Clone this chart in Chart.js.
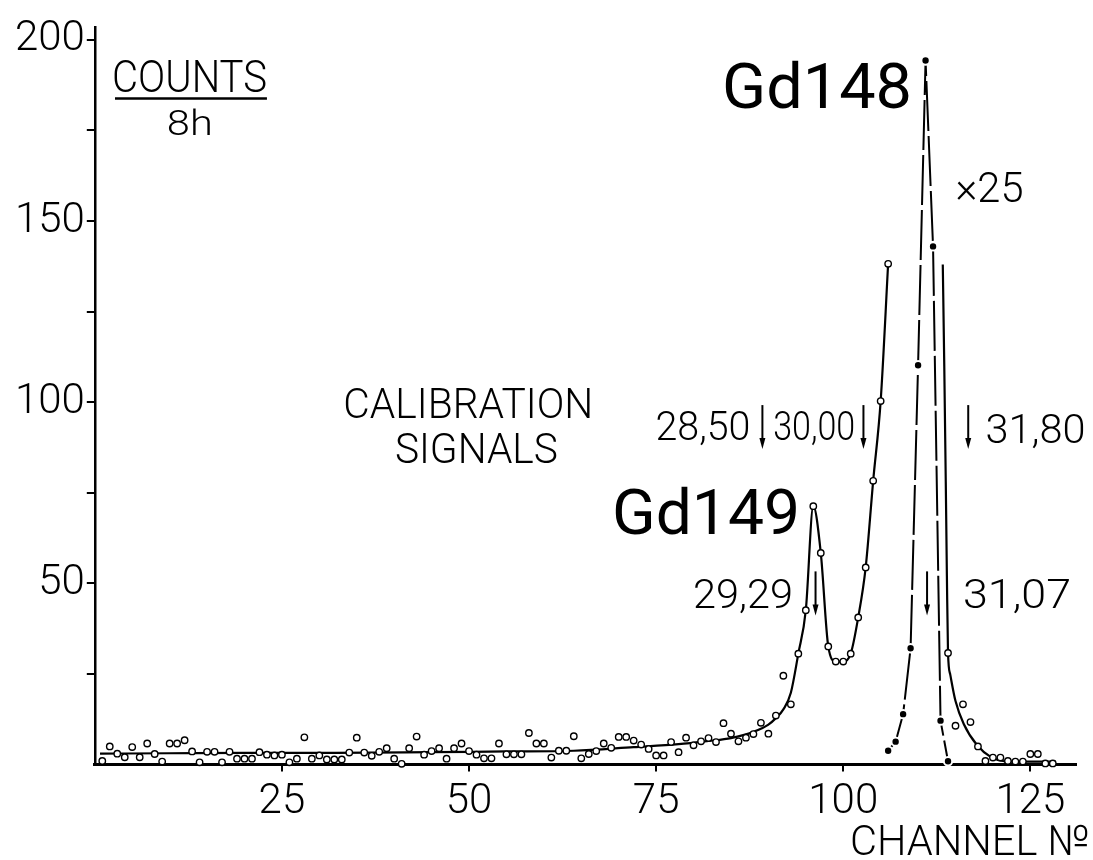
<!DOCTYPE html>
<html>
<head>
<meta charset="utf-8">
<style>
html,body{margin:0;padding:0;background:#fff;}
canvas{display:block;}
</style>
<script src="https://cdn.jsdelivr.net/npm/chart.js@4.4.1/dist/chart.umd.min.js"></script>
</head>
<body>
<canvas id="c" width="1093" height="860" style="width:1093px;height:860px"></canvas>
<script>
// ---- data ----
const channels = [
  1,2,3,4,5,6,7,8,9,10,11,12,13,14,15,16,17,18,19,20,21,22,23,24,25,26,27,28,29,30,31,32,
  33,34,35,36,37,38,39,40,41,42,43,44,45,46,47,48,49,50,51,52,53,54,55,56,57,58,59,60,61,62,63,64,
  65,66,67,68,69,70,71,72,73,74,75,76,77,78,79,80,81,82,83,84,85,86,87,88,89,90,91,92,93,
  94,95,96,97,98,99,100,101,102,103,104,105,106,
  114,115,116,117,118,119,120,121,122,123,124,125,126,127,128
];
const counts = [
  1.0,5.0,3.0,2.0,4.8,2.0,5.8,2.9,0.8,5.8,5.8,6.7,3.6,0.6,3.5,3.5,0.6,3.5,1.6,1.6,1.6,3.4,2.7,2.5,2.7,0.6,1.6,7.5,1.6,2.5,1.4,1.4,
  1.4,3.3,7.4,3.3,2.4,3.5,4.5,1.6,0.2,4.5,7.7,2.7,3.7,4.5,1.6,4.5,5.8,3.7,2.7,1.7,1.7,5.8,2.8,2.8,2.8,8.7,5.8,5.8,1.9,3.8,3.8,7.8,
  1.7,2.9,3.7,5.8,4.6,7.6,7.6,6.6,5.5,4.3,2.5,2.5,6.2,3.4,7.4,5.3,6.4,7.3,6.2,11.4,8.5,6.4,7.4,8.4,11.5,8.5,13.5,24.5,16.6,
  30.6,42.6,71.3,58.4,32.6,28.4,28.4,30.6,40.6,54.4,78.3,100.3,138.2,
  30.8,10.7,16.6,11.7,5.0,1.0,1.9,1.9,1.0,0.8,0.8,2.9,2.9,0.3,0.3
];
// fitted curve: background + Gd149 (solid line)
const fitCh     = [0.7,10,20,32,45,55,64,72,78,82,85,88,90,91,92,93,94,95,96,97,98,99,100,101,102,103,104,105,106];
const fitCounts = [3.0,3.1,3.2,3.2,3.4,3.6,3.8,4.8,5.6,6.5,7.3,9.0,11.0,12.8,15.2,19.8,30.6,42.6,71.3,58.4,32.6,28.4,28.4,30.6,40.6,54.4,78.3,100.3,138.2];
// fitted curve: Gd148 tail (solid line)
const tailCh     = [113.3,113.5,113.7,113.85,114,114.3,115,116.1,117.9,119.7,121.5,123,128.4];
const tailCounts = [138,110,78,52,30.8,24.8,17.5,11.2,5.3,2.1,0.9,0.8,0.8];
// Gd148 peak scaled x1/25 (filled dots, dash-dot line)
const gd148Ch     = [106,107,108,109,110,111,112,113,114];
const gd148Counts = [3.8,6.3,13.9,32.1,110.2,194.3,143.0,12.1,0.9];
// axis ticks
const xTicks = [25,50,75,100,125];
const yTicks = [25,50,75,100,125,150,175,200];
const yLabelEvery = 50;
// calibration energy markers
const markerLabels = ['28,50','30,00','31,80','29,29','31,07'];
const markerCh     = [89.2,102.7,116.7,96.3,111.2];

// ---- layout / style (not data) ----
const FONT = 'Roboto, "DejaVu Sans", sans-serif';
const markerStyle = [
  {top:99.2,bottom:87.1,side:'right',lx:87.6,ly:89.5,w:95},
  {top:99.2,bottom:87.1,side:'right',lx:101.6,ly:89.5,w:82},
  {top:99.2,bottom:87.1,side:'left',lx:119.0,ly:88.7,w:100},
  {top:53.3,bottom:41.1,side:'right',lx:93.3,ly:43.1,w:100},
  {top:53.3,bottom:41.1,side:'left',lx:116.0,ly:43.1,w:108}
];
const texts = [
  {t:'COUNTS', x:2.3, y:185.5, size:44, w:155, align:'left', weight:300},
  {t:'8h', x:12.7, y:173.8, size:35, w:46, align:'center', weight:300},
  {t:'Gd148', x:83.8, y:181.1, size:63, w:190, align:'left', weight:400},
  {t:'×25', x:115.0, y:155.3, size:42, w:68, align:'left', weight:300},
  {t:'CALIBRATION', x:33.2, y:95.5, size:42, w:250, align:'left', weight:300},
  {t:'SIGNALS', x:40.1, y:83.3, size:42, w:163, align:'left', weight:300},
  {t:'Gd149', x:69.1, y:63.5, size:63, w:188, align:'left', weight:400},
  {t:'CHANNEL №', x:100.9, y:-24.9, size:42, w:240, align:'left', weight:300}
];

function drawText(ctx, s, px, py, size, weight, align, w) {
  ctx.save();
  ctx.font = weight + ' ' + size + 'px ' + FONT;
  const mw = ctx.measureText(s).width;
  const sx = w ? w / mw : 1;
  ctx.translate(px, py);
  ctx.scale(sx, 1);
  ctx.textAlign = align;
  ctx.textBaseline = 'alphabetic';
  ctx.fillStyle = '#000';
  ctx.fillText(s, 0, 0);
  ctx.restore();
}

const annotations = {
  id: 'annotations',
  afterDraw(chart) {
    const {ctx, scales: {x, y}} = chart;
    texts.forEach(o => drawText(ctx, o.t, x.getPixelForValue(o.x), y.getPixelForValue(o.y), o.size, o.weight, o.align, o.w));
    // underline of COUNTS
    ctx.save();
    ctx.strokeStyle = '#000'; ctx.lineWidth = 2.5;
    ctx.beginPath();
    ctx.moveTo(x.getPixelForValue(2.7), y.getPixelForValue(183.8));
    ctx.lineTo(x.getPixelForValue(23.0), y.getPixelForValue(183.8));
    ctx.stroke();
    ctx.restore();
    // markers
    markerLabels.forEach((lab, i) => {
      const m = markerStyle[i];
      const px = x.getPixelForValue(markerCh[i]);
      const pt = y.getPixelForValue(m.top), pb = y.getPixelForValue(m.bottom);
      ctx.save();
      ctx.strokeStyle = '#000'; ctx.fillStyle = '#000'; ctx.lineWidth = 2;
      ctx.beginPath(); ctx.moveTo(px, pt); ctx.lineTo(px, pb - 6); ctx.stroke();
      ctx.beginPath(); ctx.moveTo(px - 3, pb - 11); ctx.lineTo(px + 3, pb - 11); ctx.lineTo(px, pb); ctx.closePath(); ctx.fill();
      ctx.restore();
      drawText(ctx, lab, x.getPixelForValue(m.lx), y.getPixelForValue(m.ly), 41, 300, m.side, m.w);
    });
  }
};

const toXY = (xs, ys) => xs.map((v, i) => ({x: v, y: ys[i]}));

new Chart(document.getElementById('c'), {
  type: 'scatter',
  data: {
    datasets: [
      {
        data: toXY(channels, counts),
        showLine: false,
        pointRadius: 3.2,
        pointBorderWidth: 1.4,
        pointBackgroundColor: '#fff',
        pointBorderColor: '#000',
        clip: false
      },
      {
        data: toXY(gd148Ch, gd148Counts),
        showLine: true,
        borderColor: '#000',
        borderWidth: 2,
        borderDash: [50, 5],
        tension: 0,
        pointRadius: 4.2,
        pointBackgroundColor: '#000',
        pointBorderColor: '#fff',
        pointBorderWidth: 2,
        clip: false
      },
      {
        data: toXY(fitCh, fitCounts),
        showLine: true,
        borderColor: '#000',
        borderWidth: 2.2,
        pointRadius: 0,
        cubicInterpolationMode: 'monotone',
        clip: false
      },
      {
        data: toXY(tailCh, tailCounts),
        showLine: true,
        borderColor: '#000',
        borderWidth: 2.2,
        pointRadius: 0,
        cubicInterpolationMode: 'monotone',
        clip: false
      }
    ]
  },
  options: {
    responsive: false,
    animation: false,
    devicePixelRatio: 1,
    layout: {padding: {top: 15, right: 17, left: 0, bottom: 0}},
    plugins: {legend: {display: false}, tooltip: {enabled: false}},
    scales: {
      x: {
        type: 'linear', min: 0, max: 131.1,
        afterBuildTicks: s => { s.ticks = xTicks.map(v => ({value: v})); },
        afterFit: s => { s.height = 95.5; },
        grid: {drawOnChartArea: false, drawTicks: true, tickLength: 7, color: '#000', lineWidth: 2},
        border: {color: '#000', width: 3},
        ticks: {color: '#000', font: {family: FONT, size: 42, weight: 300}, padding: 6, maxRotation: 0, autoSkip: false}
      },
      y: {
        type: 'linear', min: 0, max: 203.5,
        afterBuildTicks: s => { s.ticks = yTicks.map(v => ({value: v})); },
        afterFit: s => { s.width = 94.8; },
        grid: {drawOnChartArea: false, drawTicks: true, tickLength: 8, color: '#000', lineWidth: 2},
        border: {color: '#000', width: 2.5},
        ticks: {color: '#000', font: {family: FONT, size: 42, weight: 300}, padding: 2, autoSkip: false,
                callback: v => (v % yLabelEvery === 0 ? String(v) : '')}
      }
    }
  },
  plugins: [annotations]
});
</script>
</body>
</html>
